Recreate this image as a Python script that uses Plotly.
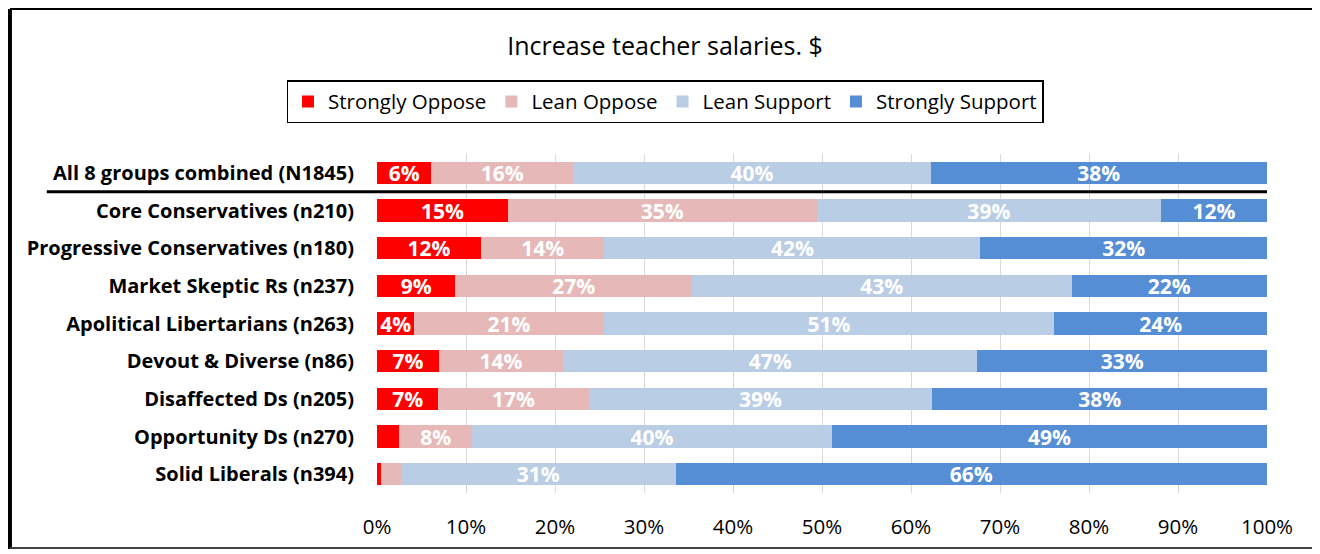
import plotly.graph_objects as go

groups = [
    "All 8 groups combined (N1845)",
    "Core Conservatives (n210)",
    "Progressive Conservatives (n180)",
    "Market Skeptic Rs (n237)",
    "Apolitical Libertarians (n263)",
    "Devout & Diverse (n86)",
    "Disaffected Ds (n205)",
    "Opportunity Ds (n270)",
    "Solid Liberals (n394)",
]

strongly_oppose = [6.1, 14.7, 11.7, 8.8, 4.2, 6.95, 6.9, 2.5, 0.45]
lean_oppose = [15.95, 34.7, 13.85, 26.6, 21.25, 13.95, 16.9, 8.2, 2.25]
lean_support = [40.15, 38.7, 42.25, 42.65, 50.65, 46.55, 38.6, 40.4, 30.85]
strongly_support = [37.8, 11.9, 32.2, 21.95, 23.9, 32.55, 37.6, 48.9, 66.45]

series = [
    ("Strongly Oppose", strongly_oppose, "#FF0000"),
    ("Lean Oppose", lean_oppose, "#E6B9B8"),
    ("Lean Support", lean_support, "#B9CDE5"),
    ("Strongly Support", strongly_support, "#558ED5"),
]

FONT = "Open Sans, sans-serif"

fig = go.Figure()
for name, vals, color in series:
    labels = [f"{v:.0f}%" if v >= 3 else "" for v in vals]
    fig.add_trace(go.Bar(
        name=name, y=groups, x=[v / 100 for v in vals], orientation="h",
        marker=dict(color=color, line=dict(width=0)),
        text=labels, textposition="inside", insidetextanchor="middle",
        textangle=0, constraintext="none",
        textfont=dict(family=FONT, size=21, color="white", weight="bold"),
    ))

# separator under the combined row
fig.add_shape(type="line", xref="paper", yref="y", x0=-0.371, x1=1, y0=0.5, y1=0.5,
              line=dict(color="black", width=3))
# frame: thick left edge, top edge, grey bottom edge
fig.add_shape(type="line", xref="paper", yref="paper", x0=-0.4124, x1=-0.4124,
              y0=-0.165, y1=1.4277, line=dict(color="black", width=4))
fig.add_shape(type="line", xref="paper", yref="paper", x0=-0.4124, x1=1.3,
              y0=1.4277, y1=1.4277, line=dict(color="black", width=2))
fig.add_shape(type="line", xref="paper", yref="paper", x0=-0.4124, x1=1.3,
              y0=-0.1622, y1=-0.1622, line=dict(color="#404040", width=2))

# page adds an 8px body margin, so the figure is 8px smaller and shifted
fig.update_layout(
    width=1312, height=546,
    barmode="stack", bargap=0.415,
    plot_bgcolor="white", paper_bgcolor="white",
    margin=dict(l=369, r=53, t=146, b=61),
    font=dict(family=FONT, color="black"),
    uniformtext=dict(minsize=21, mode="show"),
    title=dict(text="Increase teacher salaries. $", x=(665 - 8) / 1312, xanchor="center",
               y=1 - 38 / 546, yanchor="middle",
               font=dict(family=FONT, size=25, color="black")),
    legend=dict(orientation="h", x=0.3236, xanchor="center", y=1.218, yanchor="top",
                bordercolor="black", borderwidth=1.5, itemwidth=30,
                font=dict(family=FONT, size=20.5, color="black"),
                traceorder="normal"),
    xaxis=dict(range=[0, 1], tickformat=".0%", dtick=0.1, showgrid=True,
               gridcolor="#D9D9D9", gridwidth=1, zeroline=False,
               ticks="outside", ticklen=0, ticklabelstandoff=15,
               tickfont=dict(family=FONT, size=20.5, color="black")),
    yaxis=dict(autorange="reversed", showgrid=False, ticks="outside", ticklen=0,
               ticklabelstandoff=18,
               tickfont=dict(family=FONT, size=20, color="black", weight="bold")),
)

fig.write_html("out.html")
